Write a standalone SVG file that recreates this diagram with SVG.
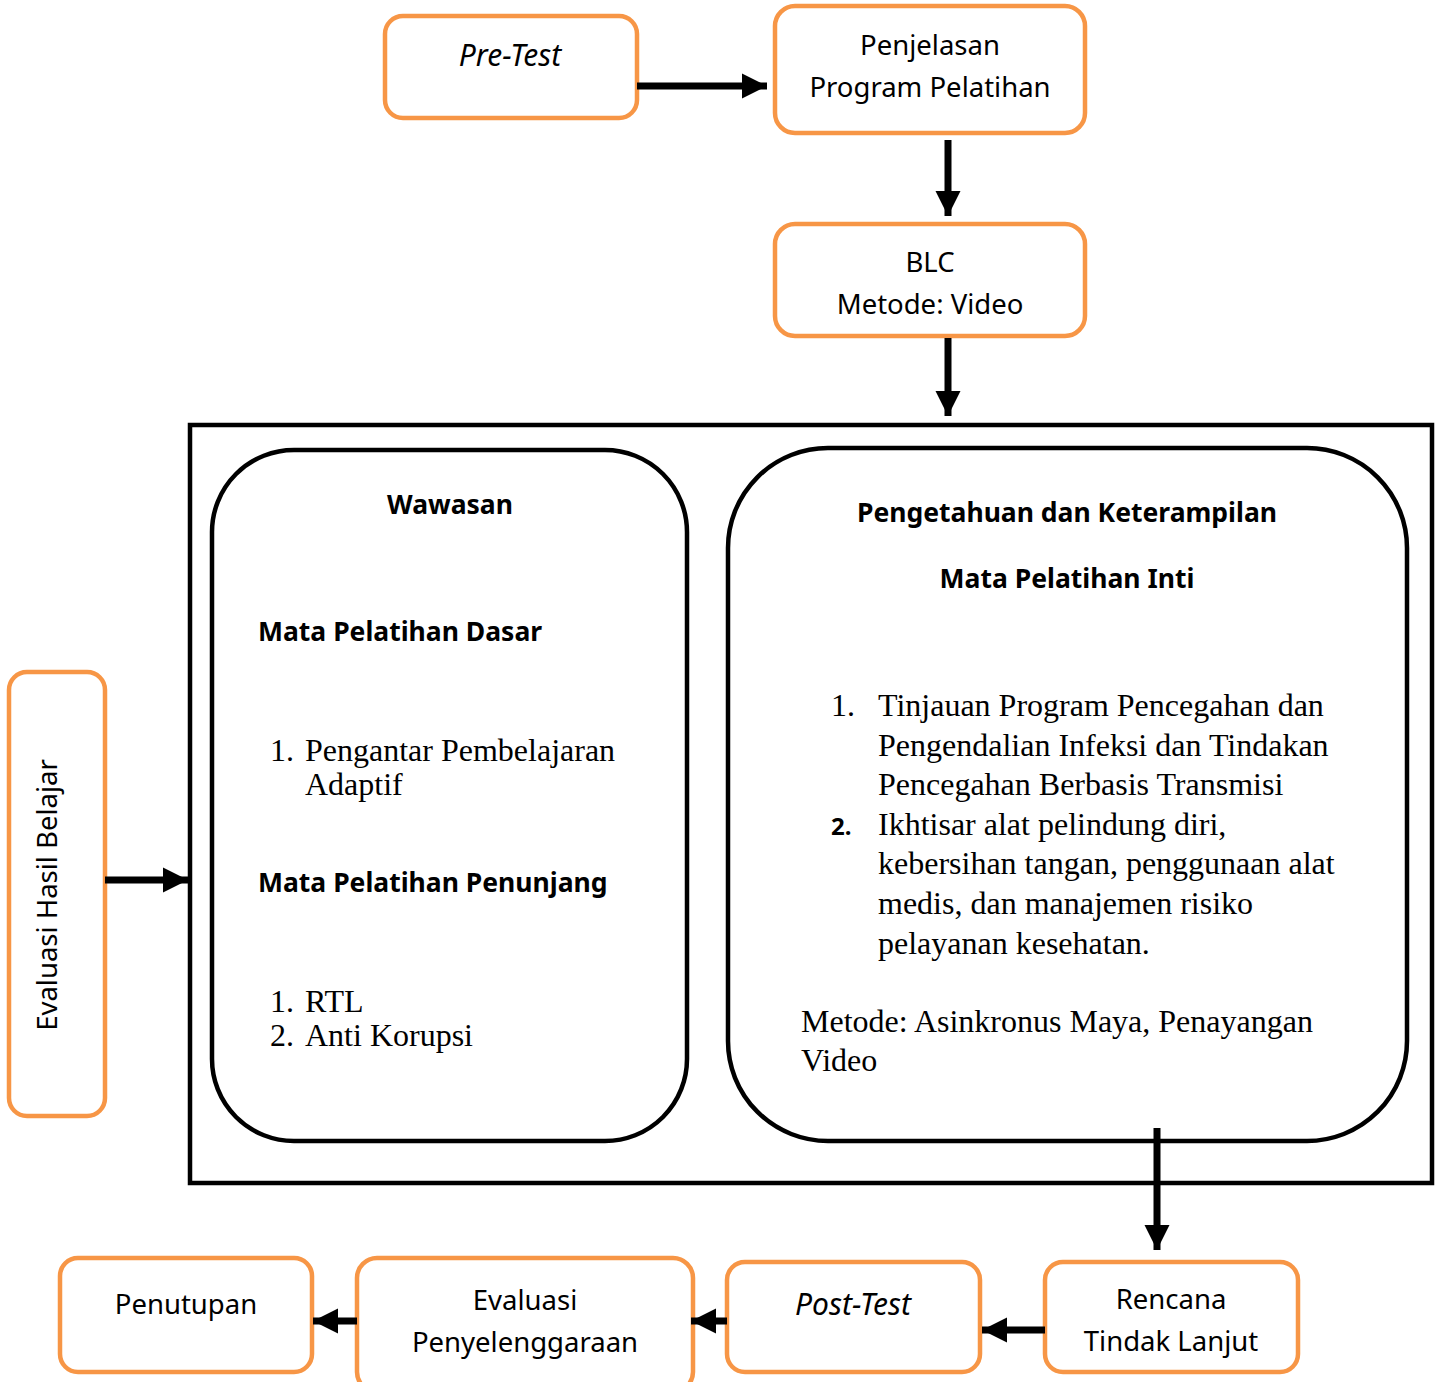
<svg xmlns="http://www.w3.org/2000/svg" width="1440" height="1382" viewBox="0 0 1440 1382">
<defs>
<style>
.ob{fill:#fff;stroke:#F79646;stroke-width:4.5}
.bk{fill:none;stroke:#000;stroke-width:4.5}
.t{font-family:"Noto Sans","Open Sans",sans-serif;font-size:27.5px;fill:#000}
.c{text-anchor:middle}
.i{font-style:italic;font-size:30px}
.h{font-family:"Noto Sans","Open Sans",sans-serif;font-size:26.5px;font-weight:bold;fill:#000}
.s{font-family:"Liberation Serif","Times New Roman",serif;font-size:32px;fill:#000}
.ln{stroke:#000;stroke-width:7;fill:none}
</style>
<marker id="ah" viewBox="0 0 10 10" refX="10" refY="5" markerWidth="3.6" markerHeight="3.6" markerUnits="strokeWidth" orient="auto">
<path d="M0,0 L10,5 L0,10 z" fill="#000"/>
</marker>
</defs>
<rect width="1440" height="1382" fill="#fff"/>

<g id="container">
<rect x="190" y="425" width="1242" height="758" class="bk"/>
</g>

<g id="pretest">
<rect x="385" y="16" width="252" height="102" rx="18" class="ob"/>
<text x="510" y="66" class="t c i">Pre-Test</text>
</g>

<g id="penjelasan">
<rect x="775" y="6" width="310" height="127" rx="20" class="ob"/>
<text x="930" y="55" class="t c">Penjelasan</text>
<text x="930" y="97" class="t c">Program Pelatihan</text>
</g>

<g id="blc">
<rect x="775" y="224" width="310" height="112" rx="20" class="ob"/>
<text x="930" y="272" class="t c">BLC</text>
<text x="930" y="314" class="t c">Metode: Video</text>
</g>

<g id="wawasan">
<rect x="212" y="450" width="475" height="691" rx="82" class="bk"/>
<text x="450" y="514" class="h c">Wawasan</text>
<text x="258" y="641" class="h">Mata Pelatihan Dasar</text>
<text x="270" y="761" class="s">1.</text>
<text x="305" y="761" class="s">Pengantar Pembelajaran</text>
<text x="305" y="795" class="s">Adaptif</text>
<text x="258" y="892" class="h">Mata Pelatihan Penunjang</text>
<text x="270" y="1012" class="s">1.</text>
<text x="305" y="1012" class="s">RTL</text>
<text x="270" y="1046" class="s">2.</text>
<text x="305" y="1046" class="s">Anti Korupsi</text>
</g>

<g id="pengetahuan">
<rect x="728" y="448" width="679" height="693" rx="100" class="bk"/>
<text x="1067" y="522" class="h c">Pengetahuan dan Keterampilan</text>
<text x="1067" y="588" class="h c">Mata Pelatihan Inti</text>
<text x="831" y="716" class="s">1.</text>
<text x="878" y="716" class="s">Tinjauan Program Pencegahan dan</text>
<text x="878" y="756" class="s">Pengendalian Infeksi dan Tindakan</text>
<text x="878" y="795" class="s">Pencegahan Berbasis Transmisi</text>
<text x="831" y="835" class="h" style="font-size:24px">2.</text>
<text x="878" y="835" class="s">Ikhtisar alat pelindung diri,</text>
<text x="878" y="874" class="s">kebersihan tangan, penggunaan alat</text>
<text x="878" y="914" class="s">medis, dan manajemen risiko</text>
<text x="878" y="954" class="s">pelayanan kesehatan.</text>
<text x="801" y="1032" class="s">Metode: Asinkronus Maya, Penayangan</text>
<text x="801" y="1071" class="s">Video</text>
</g>

<g id="evaluasi-hasil">
<rect x="9" y="672" width="96" height="444" rx="18" class="ob"/>
<text transform="translate(57,895) rotate(-90)" class="t c">Evaluasi Hasil Belajar</text>
</g>

<g id="rencana">
<rect x="1045" y="1262" width="253" height="110" rx="18" class="ob"/>
<text x="1171" y="1309" class="t c">Rencana</text>
<text x="1171" y="1351" class="t c">Tindak Lanjut</text>
</g>

<g id="posttest">
<rect x="727" y="1262" width="253" height="110" rx="18" class="ob"/>
<text x="853" y="1315" class="t c i">Post-Test</text>
</g>

<g id="evaluasi-penyelenggaraan">
<rect x="357" y="1258" width="336" height="134" rx="20" class="ob"/>
<text x="525" y="1310" class="t c">Evaluasi</text>
<text x="525" y="1352" class="t c">Penyelenggaraan</text>
</g>

<g id="penutupan">
<rect x="60" y="1258" width="252" height="114" rx="18" class="ob"/>
<text x="186" y="1314" class="t c">Penutupan</text>
</g>

<g id="connectors">
<line x1="637" y1="86" x2="767" y2="86" class="ln" marker-end="url(#ah)"/>
<line x1="948" y1="140" x2="948" y2="216" class="ln" marker-end="url(#ah)"/>
<line x1="948" y1="338" x2="948" y2="416" class="ln" marker-end="url(#ah)"/>
<line x1="105" y1="880" x2="188" y2="880" class="ln" marker-end="url(#ah)"/>
<line x1="1157" y1="1128" x2="1157" y2="1250" class="ln" marker-end="url(#ah)"/>
<line x1="1045" y1="1330" x2="982" y2="1330" class="ln" marker-end="url(#ah)"/>
<line x1="727" y1="1321" x2="691" y2="1321" class="ln" marker-end="url(#ah)"/>
<line x1="357" y1="1321" x2="313" y2="1321" class="ln" marker-end="url(#ah)"/>
</g>
</svg>
